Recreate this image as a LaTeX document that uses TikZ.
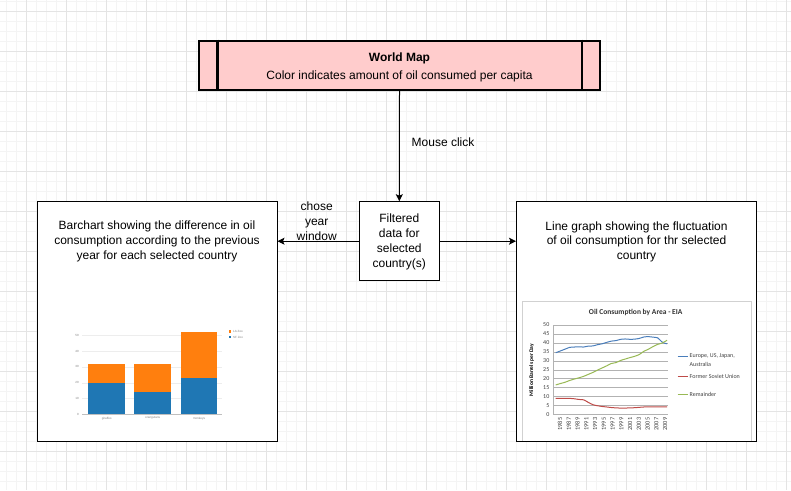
\documentclass[tikz,border=0pt]{standalone}
\usepackage{fontspec}
\setmainfont{Liberation Sans}
\newfontfamily\calfont{Carlito}
\usetikzlibrary{arrows.meta,calc}
\definecolor{mapfill}{HTML}{FFCCCC}
\definecolor{gridminor}{HTML}{F4F4F4}
\definecolor{gridmajor}{HTML}{E4E4E4}
\definecolor{pblue}{HTML}{1F77B4}
\definecolor{porange}{HTML}{FF7F0E}
\definecolor{xlblue}{HTML}{4A7EBB}
\definecolor{xlred}{HTML}{BE4B48}
\definecolor{xlgreen}{HTML}{98B954}
\tikzset{
  box/.style={draw=black,line width=1pt,fill=white,inner sep=0pt},
  txt/.style={font=\fontsize{12}{14.5}\selectfont,align=center,inner sep=0pt},
  arr/.style={line width=1pt,-{Stealth[length=7pt,width=7pt,inset=1.5pt]}},
  tiny/.style={font=\fontsize{3}{3.5}\selectfont,text=gray,inner sep=0pt},
  small/.style={font=\calfont\fontsize{6}{6.5}\selectfont,text=black!75,inner sep=0pt},
}
\begin{document}
\begin{tikzpicture}[x=1pt,y=-1pt]
\useasboundingbox (0,0) rectangle (791,490);
\fill[white] (0,0) rectangle (791,490);
% grid
\foreach \i in {0,...,79} {\draw[gridminor,line width=0.8pt] ({6.7+10*\i},0) -- ({6.7+10*\i},490);}
\foreach \i in {0,...,49} {\draw[gridminor,line width=0.8pt] (0,{1.7+10*\i}) -- (791,{1.7+10*\i});}
\foreach \i in {0,...,19} {\draw[gridmajor,line width=0.8pt] ({26.7+40*\i},0) -- ({26.7+40*\i},490);}
\foreach \i in {0,...,12} {\draw[gridmajor,line width=0.8pt] (0,{11.7+40*\i}) -- (791,{11.7+40*\i});}

% world map
\node[draw=black,line width=2.5pt,fill=mapfill,minimum width=401pt,minimum height=49pt,inner sep=0pt] (wm) at (399.5,65.4) {};
\draw[line width=2.5pt] ([xshift=19.5pt]wm.north west) -- ([xshift=19.5pt]wm.south west);
\draw[line width=2.5pt] ([xshift=-19.5pt]wm.north east) -- ([xshift=-19.5pt]wm.south east);
\node[txt,font=\bfseries\fontsize{12}{14.5}\selectfont] (wmt) at (399.5,58) {World Map};
\node[txt] (wms) at (399.5,76) {Color indicates amount of oil consumed per capita};

% filtered
\node[box,minimum width=80pt,minimum height=79pt] (filt) at (399.3,241.2) {};
\node[txt,font=\fontsize{12}{15}\selectfont] (filtt) at (399.3,241.5) {Filtered\\data for\\selected\\country(s)};

% left / right boxes
\node[box,minimum width=240pt,minimum height=240pt] (lb) at (157,321) {};
\node[box,minimum width=240pt,minimum height=240pt] (rb) at (636.5,321) {};
\node[txt,font=\fontsize{12}{15}\selectfont] (lbt) at (157,241) {Barchart showing the difference in oil\\consumption according to the previous\\year for each selected country};
\node[txt,font=\fontsize{12}{14.5}\selectfont] (rbt) at (636.5,241.8) {Line graph showing the fluctuation\\of oil consumption for thr selected\\country};

% connectors
\draw[arr] (wm.south) -- (filt.north);
\draw[arr] (filt.west) -- (filt.west -| lb.east);
\draw[arr] (filt.east) -- (filt.east -| rb.west);
\node[txt] (mc) at (443,142) {Mouse click};
\node[txt,font=\fontsize{12}{14.8}\selectfont] (cyw) at (316.7,221.5) {chose\\year\\window};

% bar chart
\begin{scope}[shift={(82,414.3)},y=1.58pt]
  \foreach \v in {10,20,30,40,50} {\draw[black!7,line width=0.4pt] (0,\v) -- (140,\v); \node[tiny,anchor=east] at (-3,\v) {\v};}
  \node[tiny,anchor=east] at (-3,0) {0};
  \fill[pblue] (6.3,0) rectangle (43,20);
  \fill[porange] (6.3,20) rectangle (43,32);
  \fill[pblue] (52.3,0) rectangle (89,14);
  \fill[porange] (52.3,14) rectangle (89,32);
  \fill[pblue] (98.7,0) rectangle (135.3,23);
  \fill[porange] (98.7,23) rectangle (135.3,52);
  \draw[black!25,line width=0.4pt] (0,0) -- (140,0);
  \node[tiny,anchor=north] at (24.7,-1.5) {giraffes};
  \node[tiny,anchor=north] at (70.7,-1.5) {orangutans};
  \node[tiny,anchor=north] at (117,-1.5) {monkeys};
\end{scope}
\fill[porange] (228.5,330.3) rectangle (231.3,333.1);
\fill[pblue] (228.5,335.6) rectangle (231.3,338.4);
\node[tiny,anchor=west] at (233,331.7) {LA Zoo};
\node[tiny,anchor=west] at (233,337) {SF Zoo};

% line chart
\draw[black!18,line width=0.6pt] (522,440.5) -- (522,301.7) -- (751.7,301.7) -- (751.7,440.5);
\node[font=\calfont\bfseries\fontsize{7.5}{8}\selectfont,text=black!80,inner sep=0pt] (lct) at (635.7,312.3) {Oil Consumption by Area - EIA};
\node[font=\calfont\bfseries\fontsize{5.5}{6}\selectfont,rotate=90,inner sep=0pt] (lcy) at (531.7,370) {Million Barrels per Day};
\begin{scope}[shift={(553,414.5)},y=1.79pt]
  \foreach \v in {5,10,...,50} {\draw[black!30,line width=0.5pt] (0,\v) -- (115,\v);}
  \foreach \v in {0,5,...,50} {\node[small,anchor=east] at (-3.5,\v) {\v};}
  \draw[black!30,line width=0.5pt] (0,0) -- (115,0);
  \draw[black!30,line width=0.5pt] (0,0) -- (0,50);
\end{scope}
\begin{scope}[shift={(560,414.5)},x=4.375pt]
  \foreach \yr [count=\k from 0] in {1985,1987,...,2009} {\node[font=\calfont\fontsize{6.3}{6.5}\selectfont,text=black!75,inner sep=0pt,rotate=90,anchor=east] at (2*\k,3) {\yr};}
\end{scope}
\begin{scope}[shift={(555.7,414.5)},x=4.64pt,y=1.79pt]
  \draw[xlblue,line width=1pt] plot[smooth] coordinates {(0,34.5) (1,35.5) (2,36.5) (3,37.5) (4,37.7) (5,37.8) (6,37.7) (7,38.2) (8,38.3) (9,39) (10,39.5) (11,40.3) (12,41) (13,41.3) (14,42) (15,42.2) (16,42) (17,42.1) (18,42.5) (19,43.3) (20,43.5) (21,43.2) (22,42.8) (23,40.3) (24,39.5)};
  \draw[xlred,line width=1pt] plot[smooth] coordinates {(0,9) (1,9) (2,9) (3,9) (4,8.8) (5,8.4) (6,8.2) (7,6.8) (8,5.5) (9,4.9) (10,4.5) (11,4.2) (12,3.9) (13,3.7) (14,3.6) (15,3.6) (16,3.7) (17,3.8) (18,4) (19,4.2) (20,4.3) (21,4.3) (22,4.3) (23,4.3) (24,4.3)};
  \draw[xlgreen,line width=1pt] plot[smooth] coordinates {(0,16.5) (1,17.3) (2,18) (3,19) (4,19.8) (5,20.5) (6,21.3) (7,22.4) (8,23.5) (9,24.8) (10,26) (11,27.2) (12,28.5) (13,29) (14,30.2) (15,31) (16,31.8) (17,32.5) (18,33.5) (19,35.3) (20,36.5) (21,38) (22,39.2) (23,40) (24,41.5)};
\end{scope}
\draw[xlblue,line width=1pt] (677.7,356) -- (688,356);
\draw[xlred,line width=1pt] (677.7,376) -- (688,376);
\draw[xlgreen,line width=1pt] (677.7,394.3) -- (688,394.3);
\node[small,anchor=north west,align=left,font=\calfont\fontsize{6}{9}\selectfont] at (689.5,353) {Europe, US, Japan,\\Australia};
\node[small,anchor=west] at (689.5,376) {Former Soviet Union};
\node[small,anchor=west] at (689.5,394.3) {Remainder};
\end{tikzpicture}
\end{document}
